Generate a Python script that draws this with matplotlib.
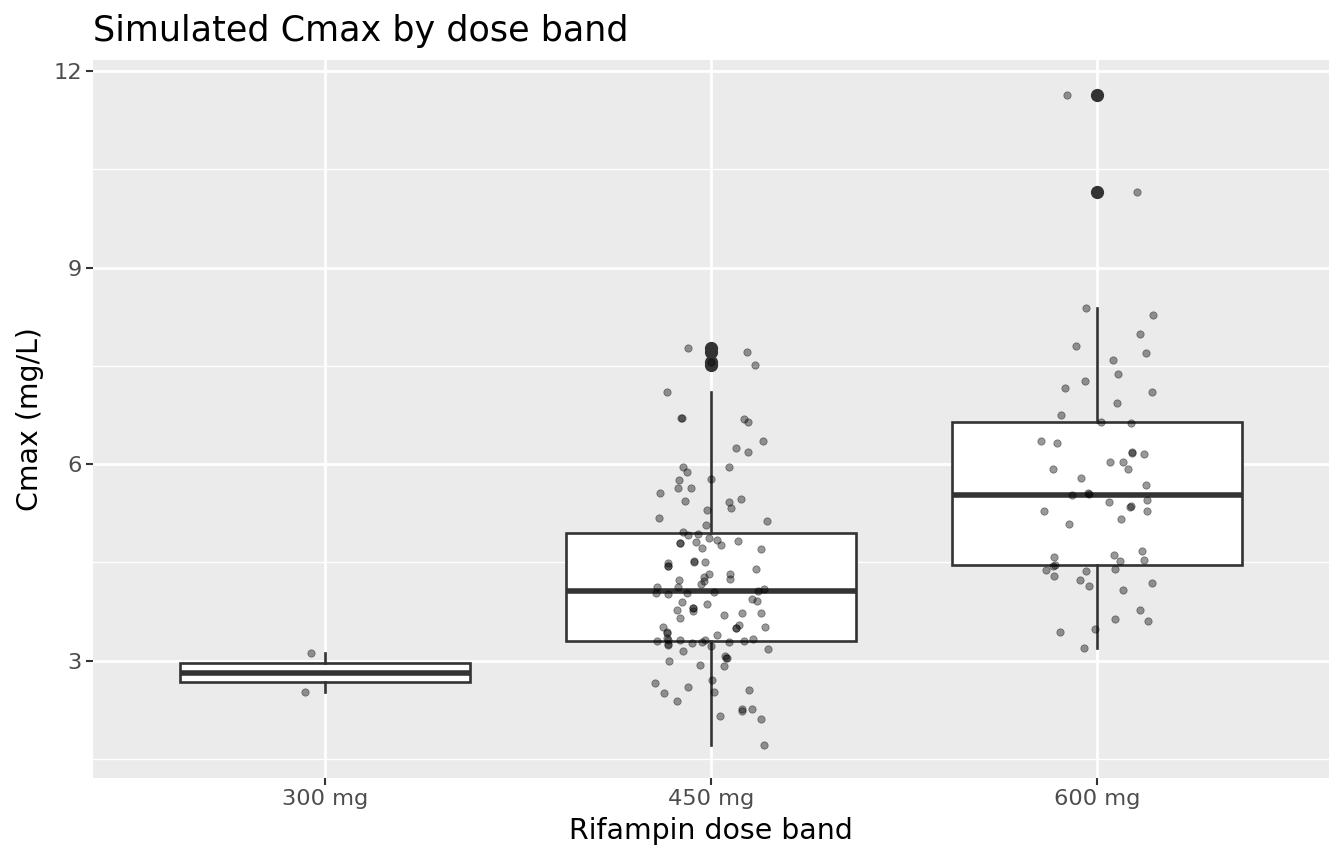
import matplotlib
matplotlib.use("Agg")
import matplotlib.pyplot as plt
from matplotlib.ticker import FixedLocator

# dose bands shown on the x axis
dose_bands = ["300 mg", "450 mg", "600 mg"]

cmax_300 = [3.12, 2.52]
cmax_450 = [7.77, 7.72, 7.56, 7.52, 7.10, 6.70, 6.70, 6.69, 6.65, 6.35, 6.25, 6.18,
            5.95, 5.88, 5.96, 5.76, 5.78, 5.63, 5.64, 5.56, 5.44, 5.43, 5.47, 5.33,
            5.30, 5.18, 5.13, 5.07,
            4.96, 4.92, 4.94, 4.80, 4.82, 4.87, 4.85, 4.76, 4.83, 4.72, 4.71,
            4.49, 4.45, 4.51, 4.51, 4.40, 4.32, 4.32, 4.25, 4.23, 4.22, 4.17, 4.13, 4.12,
            4.04, 4.02, 4.03, 4.05, 4.07, 4.09,
            3.94, 3.91, 3.90, 3.86, 3.80, 3.76, 3.77, 3.66, 3.70, 3.73, 3.73,
            3.52, 3.44, 3.42, 3.50, 3.55, 3.52, 3.39,
            3.35, 3.31, 3.24, 3.30, 3.31, 3.27, 3.28, 3.32, 3.22, 3.28, 3.30, 3.33, 3.18, 3.15,
            2.99, 2.93, 3.07, 3.04, 2.92, 2.66, 2.60, 2.51, 2.39, 2.71, 2.52, 2.55,
            2.27, 2.23, 2.26, 2.15, 2.11, 1.71,
            # points hidden under others
            4.28, 4.45, 4.52, 4.80, 3.80, 3.50, 3.26, 3.04]
cmax_600 = [11.64, 10.15, 8.38, 8.27, 7.99, 7.81, 7.69, 7.59, 7.37, 7.27, 7.17, 7.10,
            6.94, 6.75, 6.65, 6.63, 6.35, 6.32, 6.18, 6.17, 6.15, 6.04, 6.04, 5.93,
            5.92, 5.79, 5.69, 5.53, 5.56, 5.55, 5.42, 5.45, 5.35, 5.36, 5.29, 5.29,
            5.16, 5.09, 4.68, 4.61, 4.58, 4.52, 4.54, 4.45, 4.46, 4.38, 4.30, 4.37,
            4.40, 4.23, 4.14, 4.08, 4.18, 3.78, 3.63, 3.61, 3.49, 3.44, 3.19]

# horizontal jitter of each point (category units), same order as above
jitter_300 = [-0.035, -0.052]
jitter_450 = [-0.059, 0.092, 0.001, 0.115, -0.115, -0.077, -0.075, 0.085, 0.097, 0.135, 0.065, 0.095,
              -0.073, -0.063, 0.046, -0.084, 0.001, -0.086, -0.051, -0.133, -0.066, 0.047, 0.078, 0.053,
              -0.009, -0.134, 0.146, -0.012,
              -0.072, -0.060, -0.034, -0.081, -0.038, -0.004, 0.016, 0.027, 0.069, -0.022, 0.130,
              -0.112, -0.112, -0.045, -0.016, 0.117, -0.006, 0.049, 0.049, -0.083, -0.019, -0.025, -0.140, -0.086,
              -0.143, -0.111, -0.062, 0.008, 0.123, 0.137,
              0.107, 0.120, -0.075, -0.009, -0.047, -0.047, -0.087, -0.080, 0.034, 0.081, 0.130,
              -0.125, -0.115, -0.115, 0.065, 0.072, 0.141, 0.015,
              -0.113, -0.112, -0.110, -0.139, -0.081, -0.049, -0.022, -0.016, -0.001, 0.047, 0.086, 0.109, 0.147, -0.072,
              -0.109, -0.029, 0.036, 0.040, 0.034, -0.144, -0.059, -0.122, -0.088, 0.002, 0.009, 0.099,
              0.080, 0.080, 0.105, 0.024, 0.130, 0.136,
              -0.019, -0.111, -0.045, -0.080, -0.046, 0.066, -0.111, 0.041]
jitter_600 = [-0.078, 0.103, -0.028, 0.144, 0.110, -0.055, 0.127, 0.040, 0.054, -0.032, -0.083, 0.143,
              0.050, -0.093, 0.009, 0.087, -0.146, -0.105, 0.089, 0.091, 0.121, 0.033, 0.066, -0.115,
              0.080, -0.042, 0.127, -0.066, -0.024, -0.020, 0.030, 0.128, 0.085, 0.088, 0.128, -0.138,
              0.061, -0.072, 0.115, 0.043, -0.112, 0.059, 0.122, -0.115, -0.110, -0.133, -0.111, -0.028,
              0.046, -0.045, -0.020, 0.067, 0.143, 0.111, 0.046, 0.131, -0.007, -0.097, -0.034]

groups = [cmax_300, cmax_450, cmax_600]
jitters = [jitter_300, jitter_450, jitter_600]

GRID_BG = "#EBEBEB"
DARK = "#333333"

fig = plt.figure(figsize=(13.44, 8.64), dpi=100)
ax = fig.add_axes([0.0692, 0.0995, 0.9196, 0.8311])
ax.set_facecolor(GRID_BG)
for s in ax.spines.values():
    s.set_visible(False)

positions = [1, 2, 3]
ax.boxplot(groups, positions=positions, widths=0.75, whis=1.5, patch_artist=True,
           showcaps=False,
           boxprops=dict(facecolor="white", edgecolor=DARK, linewidth=1.9),
           medianprops=dict(color=DARK, linewidth=4.0, solid_capstyle="butt"),
           whiskerprops=dict(color=DARK, linewidth=1.9),
           flierprops=dict(marker="o", markerfacecolor=DARK, markeredgecolor=DARK,
                           markersize=8.5),
           zorder=2)

# jittered raw points on top of the boxes
for pos, vals, jit in zip(positions, groups, jitters):
    xs = [pos + j for j in jit]
    ax.scatter(xs, vals, s=28, color="black", alpha=0.4, edgecolors="black",
               linewidths=0.6, zorder=3)

ax.set_xlim(0.4, 3.6)
ax.set_ylim(1.21, 12.17)
ax.set_xticks(positions)
ax.set_xticklabels(dose_bands)
ax.set_yticks([3, 6, 9, 12])
ax.set_yticklabels(["3", "6", "9", "12"])
ax.yaxis.set_minor_locator(FixedLocator([1.5, 4.5, 7.5, 10.5]))

ax.set_axisbelow(True)
ax.grid(which="major", color="white", linewidth=2.0)
ax.grid(which="minor", axis="y", color="white", linewidth=1.0)
ax.tick_params(which="major", length=5, width=1.5, color=DARK, labelcolor="#4D4D4D",
               labelsize=16.2, pad=3)
ax.tick_params(which="minor", length=0)

ax.set_xlabel("Rifampin dose band", fontsize=20.4, color="black", labelpad=6)
ax.set_ylabel("Cmax (mg/L)", fontsize=20.4, color="black", labelpad=7)
ax.set_title("Simulated Cmax by dose band", fontsize=25.2, loc="left", pad=14)

fig.savefig("out.png", dpi=100)
